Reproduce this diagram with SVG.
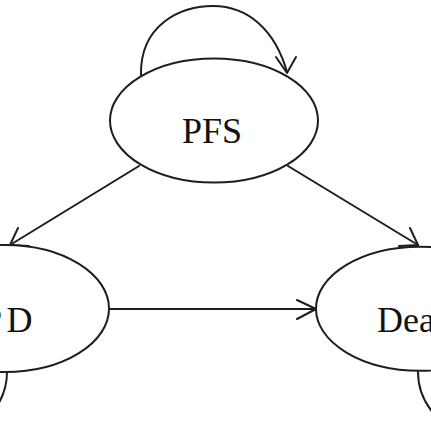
<svg xmlns="http://www.w3.org/2000/svg" width="431" height="431" viewBox="0 0 431 431">
  <style>
    .node ellipse { fill: #ffffff; stroke: #1e1e1e; stroke-width: 2; }
    .node text { font-family: "Liberation Serif", "Times New Roman", serif; font-size: 36px; fill: #111111; }
    .edge { fill: none; stroke: #1e1e1e; stroke-width: 2; stroke-linecap: round; stroke-linejoin: round; }
  </style>
  <rect width="431" height="431" fill="#ffffff"/>
  <g id="connectors">
    <!-- PFS self loop -->
    <path class="edge" d="M141,75 C140,25 180,6 213,6 C248,6 275,30 287,72"/>
    <path class="edge" d="M276,57 L287,73 L296,57"/>
    <!-- PFS -> PD -->
    <path class="edge" d="M139,166 L10,245"/>
    <path class="edge" d="M18,228 L10,245 L29,246"/>
    <!-- PFS -> Death -->
    <path class="edge" d="M288,166 L418,245"/>
    <path class="edge" d="M410,228 L418,245 L399,246"/>
    <!-- PD -> Death -->
    <path class="edge" d="M110,309 L316,309"/>
    <path class="edge" d="M297,300 L316,309 L297,319"/>
    <!-- PD self loop (bottom, mostly outside) -->
    <path class="edge" d="M7,372 C7,410 -30,442 -66,442"/>
    <!-- Death self loop (bottom, mostly outside) -->
    <path class="edge" d="M418,372 C418,410 455,442 491,442"/>
  </g>
  <g id="node-pfs" class="node">
    <ellipse cx="214" cy="120.5" rx="104" ry="62"/>
    <text x="212" y="143" text-anchor="middle">PFS</text>
  </g>
  <g id="node-pd" class="node">
    <ellipse cx="5" cy="308.5" rx="104" ry="63.5"/>
    <text x="-18" y="332">P<tspan x="6.5">D</tspan></text>
  </g>
  <g id="node-death" class="node">
    <ellipse cx="420" cy="308.7" rx="104" ry="62"/>
    <text x="377" y="332">Death</text>
  </g>
</svg>
